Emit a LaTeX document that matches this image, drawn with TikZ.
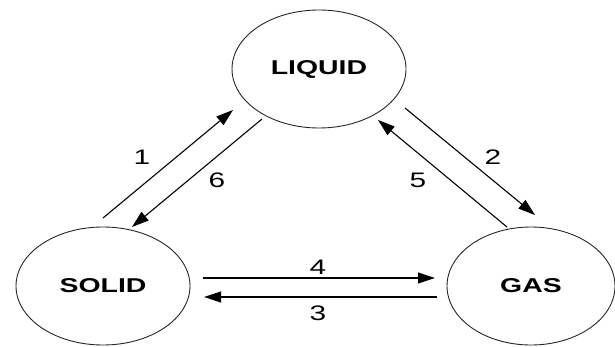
\documentclass[tikz,border=0pt]{standalone}
\usepackage{fontspec}
\setmainfont{Liberation Sans}
\usetikzlibrary{shapes.geometric,arrows.meta}
\newcommand{\wide}[1]{\scalebox{1.42}[1]{#1}}

\begin{document}
\begin{tikzpicture}[x=1pt, y=1pt,
  phase/.style={ellipse, draw=black!85, line width=0.9pt, minimum width=174pt, minimum height=118pt, inner sep=0pt},
  change/.style={line width=1.1pt, -{Triangle[length=17pt, width=11pt]}},
  num/.style={font=\fontsize{21}{21}\selectfont, inner sep=0pt}]
\useasboundingbox (0,0) rectangle (615,346);

\node[phase] (liquid) at (319,277) {\fontsize{20}{20}\selectfont\bfseries\wide{LIQUID}};
\node[phase] (solid) at (103,60) {\fontsize{20}{20}\selectfont\bfseries\wide{SOLID}};
\node[phase, minimum width=168pt] (gas) at (531,60) {\fontsize{20}{20}\selectfont\bfseries\wide{GAS}};

\draw[change] ([shift={(0,68)}]solid.center) -- ([shift={(-86,-41)}]liquid.center);
\draw[change] ([shift={(-57,-50)}]liquid.center) -- ([shift={(29,59)}]solid.center);
\draw[change] ([shift={(86,-39)}]liquid.center) -- ([shift={(4,71)}]gas.center);
\draw[change] ([shift={(-24,59)}]gas.center) -- ([shift={(59,-51)}]liquid.center);
\draw[change] ([shift={(100,8)}]solid.center) -- ([shift={(-96,8)}]gas.center);
\draw[change] ([shift={(-94,-11)}]gas.center) -- ([shift={(101,-11)}]solid.center);

\node[num] (n1) at (142,189) {\wide{1}};
\node[num] (n6) at (217,166) {\wide{6}};
\node[num] (n2) at (493,189) {\wide{2}};
\node[num] (n5) at (418,166) {\wide{5}};
\node[num] (n4) at (318,79) {\wide{4}};
\node[num] (n3) at (318,33) {\wide{3}};
\end{tikzpicture}
\end{document}
